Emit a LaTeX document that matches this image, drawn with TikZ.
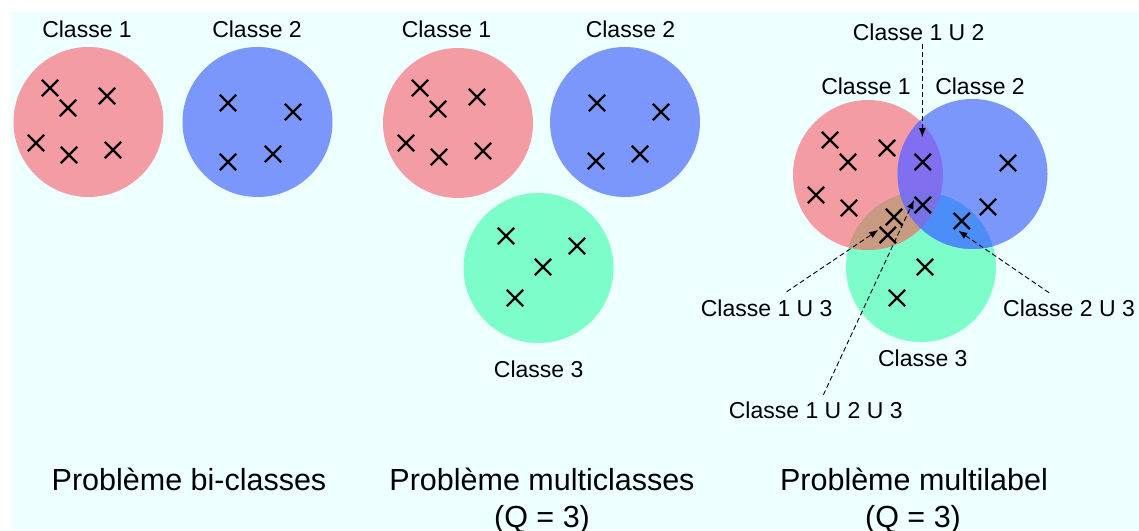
\documentclass[tikz,border=0pt]{standalone}
\usepackage{fontspec}
\setmainfont{Liberation Sans}
\usetikzlibrary{shapes.misc,arrows.meta}
\definecolor{bgc}{HTML}{EDFFFF}
\definecolor{redc}{HTML}{F39CA4}
\definecolor{bluec}{HTML}{7B97FB}
\definecolor{greenc}{HTML}{7DFDCA}
\definecolor{rbc}{HTML}{8070F0}
\definecolor{rgc}{HTML}{C89A82}
\definecolor{bgrc}{HTML}{4D8DF8}
\definecolor{rbgc}{HTML}{7872E6}
\tikzset{
  xmark/.style={cross out, draw=black, line width=2.3pt, minimum size=14pt, inner sep=0pt},
  lbl/.style={font=\fontsize{23}{27}\selectfont, anchor=base, inner sep=0pt},
  ttl/.style={font=\fontsize{30.5}{37}\selectfont, anchor=base, inner sep=0pt, align=center},
  ptr/.style={dash pattern=on 5pt off 3pt, line width=0.9pt, -{Latex[length=9pt,width=7pt]}}
}
\begin{document}
\begin{tikzpicture}[x=1pt,y=-1pt]
\useasboundingbox (0,0) rectangle (1139,530);
\fill[white] (0,0) rectangle (1139,530);
\fill[bgc] (11,12) rectangle (1139,530);

% ---------- Panel 1 ----------
\coordinate (r1) at (88.5,122);
\coordinate (b1) at (257.5,122);
\fill[redc] (r1) circle (75);
\fill[bluec] (b1) circle (75);
\node[lbl] (l11) at (87,37) {Classe 1};
\node[lbl] (l12) at (257,37) {Classe 2};
\foreach \p [count=\i] in {(50,88),(68,108),(107,96),(36,143),(69,155),(113,150)}
  \node[xmark] (p1r\i) at \p {};
\foreach \p [count=\i] in {(228,103),(293,112),(228,162),(273,154)}
  \node[xmark] (p1b\i) at \p {};
\node[ttl] (t1) at (189,490) {Problème bi-classes};

% ---------- Panel 2 ----------
\coordinate (r2) at (458,123);
\coordinate (b2) at (625,122);
\coordinate (g2) at (538.5,268);
\fill[redc] (r2) circle (75);
\fill[bluec] (b2) circle (75);
\fill[greenc] (g2) circle (75);
\node[lbl] (l21) at (446.5,37) {Classe 1};
\node[lbl] (l22) at (630.5,37) {Classe 2};
\node[lbl] (l23) at (538.7,377) {Classe 3};
\foreach \p [count=\i] in {(420,88),(438,109),(477,97),(406,143),(439,157),(483,151)}
  \node[xmark] (p2r\i) at \p {};
\foreach \p [count=\i] in {(597,103),(661,112),(596,161),(640,154)}
  \node[xmark] (p2b\i) at \p {};
\foreach \p [count=\i] in {(506,236),(577,246),(543,267),(515,298)}
  \node[xmark] (p2g\i) at \p {};
\node[ttl] (t2a) at (542,490) {Problème multiclasses};
\node[ttl] (t2b) at (542,527) {(Q = 3)};

% ---------- Panel 3 ----------
\coordinate (r3) at (868,175);
\coordinate (b3) at (972.5,174);
\coordinate (g3) at (921,267);
\fill[greenc] (g3) circle (75);
\fill[redc] (r3) circle (75);
\fill[bluec] (b3) circle (75);
\begin{scope}
  \clip (r3) circle (75);
  \fill[rgc] (g3) circle (75);
  \fill[rbc] (b3) circle (75);
  \clip (b3) circle (75);
  \fill[rbgc] (g3) circle (75);
\end{scope}
\begin{scope}
  \clip (b3) circle (75);
  \clip (g3) circle (75);
  \fill[bgrc] (g3) circle (75);
  \clip (r3) circle (75);
  \fill[rbgc] (g3) circle (75);
\end{scope}

\node[lbl] (l31) at (866,94) {Classe 1};
\node[lbl] (l32) at (980,94) {Classe 2};
\node[lbl] (l33) at (922.8,366.7) {Classe 3};
\node[lbl] (l312) at (918.7,40.7) {Classe 1 U 2};
\node[lbl] (l313) at (766.7,316) {Classe 1 U 3};
\node[lbl] (l323) at (1069,316) {Classe 2 U 3};
\node[lbl] (l3123) at (815.8,418.3) {Classe 1 U 2 U 3};

\foreach \p [count=\i] in {(830,140),(848,162),(887,148),(816,195),(849,208)}
  \node[xmark] (p3r\i) at \p {};
\node[xmark] (p3rb) at (922.7,162) {};
\node[xmark] (p3rbg) at (922.7,205) {};
\node[xmark] (p3rg1) at (894,217) {};
\node[xmark] (p3rg2) at (887.7,235) {};
\node[xmark] (p3b1) at (1008,163) {};
\node[xmark] (p3b2) at (988,207) {};
\node[xmark] (p3bg) at (961.7,221) {};
\node[xmark] (p3g1) at (925,267) {};
\node[xmark] (p3g2) at (897,298) {};

\coordinate (s12) at (922.3,44);
\coordinate (e12) at (922.3,137);
\coordinate (s13) at (786.7,291.7);
\coordinate (e13) at (878.3,230);
\coordinate (s23) at (1049,292.7);
\coordinate (e23) at (958.3,230.7);
\coordinate (s123) at (823.3,395);
\coordinate (e123) at (914,200);
\draw[ptr] (s12) -- (e12);
\draw[ptr] (s13) -- (e13);
\draw[ptr] (s23) -- (e23);
\draw[ptr] (s123) -- (e123);

\node[ttl] (t3a) at (914,490) {Problème multilabel};
\node[ttl] (t3b) at (913,527) {(Q = 3)};
\end{tikzpicture}
\end{document}
